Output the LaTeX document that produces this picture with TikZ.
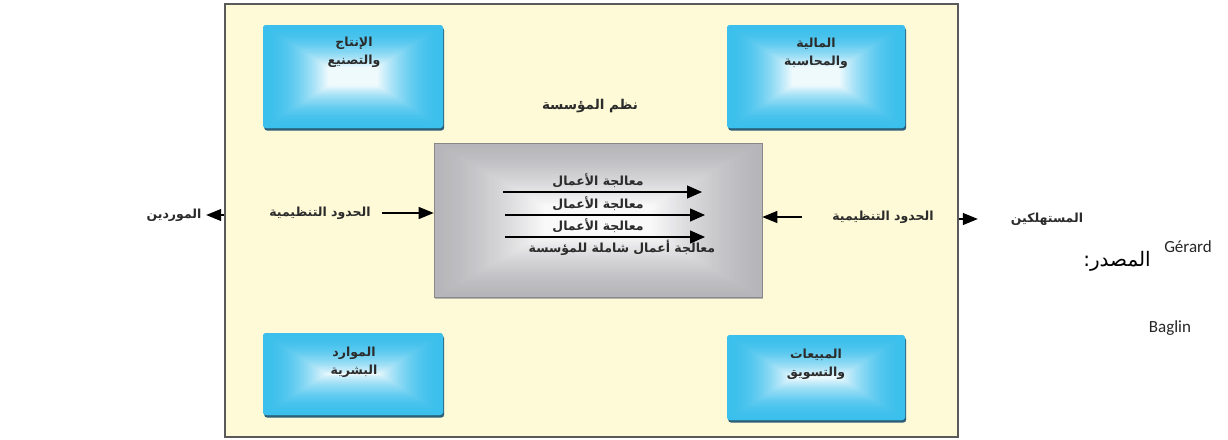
\documentclass[tikz,border=0pt]{standalone}
\usepackage{fontspec}
\usetikzlibrary{arrows.meta,calc,shadows}
\TeXXeTstate=1
\newfontfamily\arabicfont[Script=Arabic]{DejaVu Sans}
\newfontfamily\latinfont{Carlito}
\newcommand{\artxt}[1]{{\arabicfont\beginR #1\endR}}

\definecolor{paper}{HTML}{FEF9D6}
\definecolor{framegray}{HTML}{5A5A5A}
\definecolor{deptblue}{HTML}{3BBFEC}
\definecolor{deptshadow}{HTML}{2C5F7A}
\definecolor{coregray}{HTML}{B6B6BA}
\definecolor{inktext}{HTML}{2B2B2B}

\tikzset{
  % pillow gradient: edge colour, x step, y step, falloff exponent
  pillow/.style n args={4}{
    path picture={
      \foreach \i in {0,...,40}{
        \pgfmathsetmacro\pc{100*(1-0.92*(\i/40)^#4)}
        \pgfmathsetmacro\dx{\i*#2}
        \pgfmathsetmacro\dy{\i*#3}
        \fill[#1!\pc!white, rounded corners=2pt]
          ($(path picture bounding box.south west)+(\dx,-\dy)$) rectangle
          ($(path picture bounding box.north east)+(-\dx,\dy)$);
      }
    }
  },
  dept/.style={rectangle, rounded corners=3pt, fill=deptblue,
    drop shadow={shadow xshift=1.2pt, shadow yshift=-2.6pt, fill=deptshadow, opacity=1},
    pillow={deptblue}{1.62}{1.05}{1.9}},
  core/.style={rectangle, fill=coregray, draw=coregray!75!black, line width=0.6pt,
    drop shadow={shadow xshift=1.2pt, shadow yshift=-1.6pt, fill=gray!70, opacity=0.8},
    pillow={coregray}{2.76}{1.56}{1.4}},
  lbl/.style={font=\fontsize{12.5}{18}\selectfont\bfseries, text=inktext, align=center, inner sep=0pt},
  flow/.style={-{Triangle[length=15pt,width=13pt]}, line width=1.2pt, black},
  edgearrow/.style={-{Triangle[length=15pt,width=12pt]}, line width=1.1pt, black},
}

\begin{document}
\begin{tikzpicture}[x=1pt,y=-1pt]
\useasboundingbox (0,0) rectangle (1228,439);

% organisation boundary
\node[draw=framegray, line width=1.6pt, fill=paper, minimum width=733pt, minimum height=433pt, inner sep=0pt]
  (org) at (591.5,220.5) {};

% departments
\node[dept, minimum width=180pt, minimum height=103pt] (prod) at (353,76.5) {};
\node[dept, minimum width=178pt, minimum height=103pt] (fin)  at (816,76.5) {};
\node[dept, minimum width=180pt, minimum height=82pt]  (hr)   at (353,374) {};
\node[dept, minimum width=178pt, minimum height=85pt]  (mkt)  at (816,377.5) {};

\node[lbl] (prodtxt) at (354,52) {\artxt{الإنتاج}\\\artxt{والتصنيع}};
\node[lbl] (fintxt)  at (816,53) {\artxt{المالية}\\\artxt{والمحاسبة}};
\node[lbl] (hrtxt)   at (354,362) {\artxt{الموارد}\\\artxt{البشرية}};
\node[lbl] (mkttxt)  at (816,364) {\artxt{المبيعات}\\\artxt{والتسويق}};

\node[lbl, font=\fontsize{13.5}{16}\selectfont\bfseries] (systems) at (590,106) {\artxt{نظم المؤسسة}};

% core business processing
\node[core, minimum width=328pt, minimum height=154pt] (core) at (598,220) {};

\node[lbl] (p1) at (598,181) {\artxt{معالجة الأعمال}};
\node[lbl] (p2) at (598,204) {\artxt{معالجة الأعمال}};
\node[lbl] (p3) at (598,226) {\artxt{معالجة الأعمال}};
\node[lbl] (p4) at (622,248) {\artxt{معالجة أعمال شاملة للمؤسسة}};

\coordinate (a1s) at (503,192); \coordinate (a1e) at (702,192);
\coordinate (a2s) at (505,215); \coordinate (a2e) at (705,215);
\coordinate (a3s) at (505,237); \coordinate (a3e) at (705,237);
\draw[flow] (a1s) -- (a1e);
\draw[flow] (a2s) -- (a2e);
\draw[flow] (a3s) -- (a3e);

% organisational boundaries
\node[lbl] (bleft)  at (320,213) {\artxt{الحدود التنظيمية}};
\node[lbl] (bright) at (883,217) {\artxt{الحدود التنظيمية}};
\draw[edgearrow] (bleft.east) ++(11,0) -- (core.west |- bleft.east);
\draw[edgearrow] (bright.west) ++(-30,0) -- (core.east |- bright.west);

% suppliers and customers
\node[lbl] (supp) at (174,215) {\artxt{الموردين}};
\node[lbl] (cust) at (1047,219) {\artxt{المستهلكين}};
\draw[edgearrow] (org.west |- supp.east) -- ++(-18,0);
\draw[edgearrow] (org.east |- cust.west) -- ++(19,0);

% source note
\node[inner sep=0pt, font=\fontsize{20}{24}\selectfont, text=black] (src) at (1117,261) {\artxt{المصدر:}};
\node[inner sep=0pt, font=\latinfont\fontsize{17}{20}\selectfont, text=black!85] (gerard) at (1188,247) {Gérard};
\node[inner sep=0pt, font=\latinfont\fontsize{17}{20}\selectfont, text=black!85] (baglin) at (1170,328) {Baglin};
\end{tikzpicture}
\end{document}
